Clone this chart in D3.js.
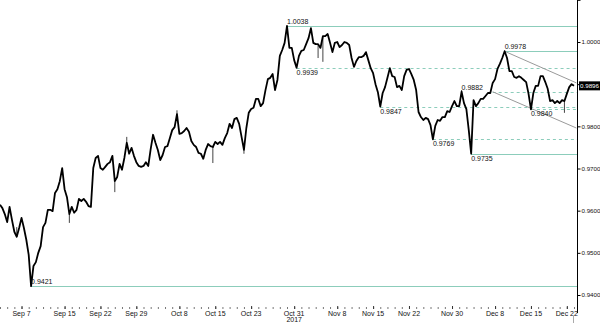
<!DOCTYPE html>
<html>
<head>
<meta charset="utf-8">
<script src="https://cdn.jsdelivr.net/npm/d3@7"></script>
<style>
  html, body { margin: 0; padding: 0; background: #fff; }
  svg { display: block; font-family: "Liberation Sans", Arial, sans-serif; }
</style>
</head>
<body>
<div id="chart"></div>
<script>
// 8-hour closes, 3 bars per trading day starting Mon 4 Sep 2017
const startDate = "2017-09-04";
const barsPerDay = 3;
const closes = [
  0.9614, 0.9606, 0.9592, 0.9573, 0.9609, 0.9578, 0.9550, 0.9538, 0.9559, 0.9583,
  0.9559, 0.9531, 0.9495, 0.9421, 0.9469, 0.9478, 0.9500, 0.9516, 0.9561, 0.9571,
  0.9602, 0.9602, 0.9599, 0.9642, 0.9651, 0.9670, 0.9701, 0.9651, 0.9632, 0.9592,
  0.9609, 0.9595, 0.9602, 0.9628, 0.9623, 0.9628, 0.9621, 0.9611, 0.9609, 0.9701,
  0.9725, 0.9730, 0.9701, 0.9697, 0.9704, 0.9711, 0.9715, 0.9730, 0.9670, 0.9680,
  0.9711, 0.9697, 0.9725, 0.9761, 0.9735, 0.9749, 0.9730, 0.9715, 0.9706, 0.9704,
  0.9706, 0.9715, 0.9706, 0.9746, 0.9780, 0.9761, 0.9744, 0.9720, 0.9732, 0.9751,
  0.9753, 0.9772, 0.9791, 0.9798, 0.9829, 0.9782, 0.9784, 0.9789, 0.9796, 0.9787,
  0.9765, 0.9756, 0.9751, 0.9737, 0.9735, 0.9723, 0.9744, 0.9758, 0.9753, 0.9751,
  0.9763, 0.9758, 0.9763, 0.9756, 0.9772, 0.9784, 0.9806, 0.9796, 0.9817, 0.9820,
  0.9806, 0.9775, 0.9744, 0.9796, 0.9832, 0.9841, 0.9844, 0.9865, 0.9865, 0.9848,
  0.9855, 0.9886, 0.9912, 0.9915, 0.9924, 0.9886, 0.9910, 0.9967, 0.9981, 0.9998,
  1.0038, 0.9986, 0.9986, 0.9957, 0.9939, 0.9967, 0.9979, 0.9981, 0.9995, 1.0009,
  1.0033, 0.9998, 0.9995, 0.9995, 0.9986, 1.0014, 1.0014, 1.0019, 0.9998, 0.9976,
  0.9998, 1.0000, 0.9988, 0.9993, 1.0000, 0.9998, 0.9993, 0.9962, 0.9941, 0.9955,
  0.9964, 0.9964, 0.9967, 0.9976, 0.9957, 0.9938, 0.9926, 0.9900, 0.9881, 0.9847,
  0.9879, 0.9893, 0.9915, 0.9938, 0.9919, 0.9917, 0.9893, 0.9896, 0.9886, 0.9919,
  0.9934, 0.9936, 0.9924, 0.9910, 0.9886, 0.9834, 0.9822, 0.9815, 0.9820, 0.9817,
  0.9803, 0.9769, 0.9801, 0.9815, 0.9813, 0.9822, 0.9822, 0.9836, 0.9834, 0.9848,
  0.9860, 0.9848, 0.9848, 0.9882, 0.9855, 0.9841, 0.9791, 0.9735, 0.9862, 0.9848,
  0.9855, 0.9865, 0.9865, 0.9872, 0.9879, 0.9879, 0.9903, 0.9912, 0.9936, 0.9948,
  0.9962, 0.9978, 0.9962, 0.9931, 0.9931, 0.9917, 0.9915, 0.9919, 0.9915, 0.9910,
  0.9905, 0.9877, 0.9840, 0.9879, 0.9896, 0.9896, 0.9919, 0.9919, 0.9905, 0.9889,
  0.9860, 0.9862, 0.9855, 0.9860, 0.9855, 0.9862, 0.9860, 0.9877, 0.9893, 0.9900,
  0.9896
];
// thin wick extremes [bar index, price]
const wicks = [[7, 0.9561], [29, 0.9571], [48, 0.9644], [53, 0.9775], [74, 0.9838], [89, 0.9713],
  [102, 0.9735], [133, 0.9962], [135, 0.9953], [193, 0.9886], [211, 0.9980], [236, 0.9832]];

const xTickLabels = ["Sep 7", "Sep 15", "Sep 22", "Sep 29", "Oct 8", "Oct 15", "Oct 23", "Oct 31",
  "Nov 8", "Nov 15", "Nov 22", "Nov 30", "Dec 8", "Dec 15", "Dec 22"];
const xTickDates = ["2017-09-07", "2017-09-15", "2017-09-22", "2017-09-29", "2017-10-08", "2017-10-15",
  "2017-10-23", "2017-10-31", "2017-11-08", "2017-11-15", "2017-11-22", "2017-11-30", "2017-12-08",
  "2017-12-15", "2017-12-22"];
const yearLabel = { date: "2017-10-31", text: "2017" };
const yTicks = [1.01, 1.00, 0.99, 0.98, 0.97, 0.96, 0.95, 0.94];
const yHiddenLabels = [1.01, 0.99]; // off the top / under the last-price tag

// support / resistance levels
const levelValues = [1.0038, 0.9978, 0.9939, 0.9882, 0.9847, 0.9840, 0.9769, 0.9735, 0.9421];
const levelFrom   = [120, 211, 124, 206, 159, 222, 181, 197, 13];
const levelLabelAt = [120, 211, 124, 193, 159, 222, 181, 197, 13];
const levelDashed = [false, false, true, true, true, true, true, false, false];
const levelAbove  = [true, true, false, true, false, false, false, false, true];
// channel lines [fromBar, fromPrice, toBar, toPrice]
const channel = [[211, 0.9978, 241, 0.9903], [206, 0.9882, 241, 0.9796]];
const lastPrice = 0.9896;

const width = 600, height = 323;
const axisX = 577;
const teal = "#8ccdbb";

function tradingDays(str) {
  const end = new Date(str + "T00:00:00Z");
  let n = 0;
  for (let t = new Date(startDate + "T00:00:00Z"); t < end; t.setUTCDate(t.getUTCDate() + 1)) {
    if (t.getUTCDay() % 6 !== 0) n++;
  }
  return n;
}

const x = d3.scaleLinear().domain([0, 80]).range([0, 574]);
const y = d3.scaleLinear().domain([0.94, 1.0]).range([295, 42]);
const bx = i => x(i / barsPerDay);

const svg = d3.select("#chart").append("svg")
  .attr("width", width).attr("height", height)
  .attr("viewBox", `0 0 ${width} ${height}`);

// level lines
const levels = levelValues.map((v, i) => ({ v, from: levelFrom[i], at: levelLabelAt[i], dashed: levelDashed[i], above: levelAbove[i] }));
svg.append("g").selectAll("line").data(levels).join("line")
  .attr("x1", d => bx(d.from)).attr("x2", axisX)
  .attr("y1", d => Math.round(y(d.v)) + 0.5).attr("y2", d => Math.round(y(d.v)) + 0.5)
  .attr("stroke", teal).attr("stroke-width", 1)
  .attr("stroke-dasharray", d => d.dashed ? "3,3" : null);

// channel
svg.append("g").selectAll("line").data(channel).join("line")
  .attr("x1", d => bx(d[0])).attr("y1", d => y(d[1]))
  .attr("x2", d => bx(d[2])).attr("y2", d => y(d[3]))
  .attr("stroke", "#9a9a9a").attr("stroke-width", 1);

// wicks
svg.append("g").selectAll("line").data(wicks).join("line")
  .attr("x1", d => bx(d[0])).attr("x2", d => bx(d[0]))
  .attr("y1", d => y(closes[d[0]])).attr("y2", d => y(d[1]))
  .attr("stroke", "#444").attr("stroke-width", 1);

// price line
const line = d3.line().x((d, i) => bx(i)).y(d => y(d));
svg.append("path")
  .attr("d", line(closes))
  .attr("fill", "none")
  .attr("stroke", "#000")
  .attr("stroke-width", 1.8)
  .attr("stroke-linejoin", "round");

// level labels
svg.append("g").selectAll("text").data(levels).join("text")
  .attr("x", d => bx(d.at))
  .attr("y", d => d.above ? y(d.v) - 2 : y(d.v) + 7)
  .attr("font-size", 7)
  .attr("fill", "#111")
  .text(d => d.v.toFixed(4));

// right axis
svg.append("line")
  .attr("x1", axisX + 0.5).attr("x2", axisX + 0.5)
  .attr("y1", 0).attr("y2", 313)
  .attr("stroke", "#000");
const yAxis = svg.append("g")
  .attr("transform", `translate(${axisX + 0.5},0)`)
  .call(d3.axisRight(y).tickValues(yTicks).tickSize(3).tickPadding(1)
    .tickFormat(d => yHiddenLabels.includes(d) ? "" : d3.format(".4f")(d)));
yAxis.select(".domain").remove();
yAxis.selectAll("text").attr("font-size", 6.2).attr("font-family", "Liberation Sans, Arial, sans-serif").attr("fill", "#111");

// last price tag
const tag = svg.append("g").attr("transform", `translate(${axisX + 2},${y(lastPrice)})`);
tag.append("rect").attr("x", 0).attr("y", -4.5).attr("width", 21).attr("height", 9).attr("fill", "#000");
tag.append("text").attr("x", 10.5).attr("y", 2.3).attr("text-anchor", "middle")
  .attr("font-size", 6.2).attr("fill", "#fff").text(lastPrice.toFixed(4));

// bottom axis
const xAxisY = 306;
const dayCount = d3.range(0, 81);
svg.append("g").selectAll("line").data(dayCount).join("line")
  .attr("x1", d => x(d) + 0.5).attr("x2", d => x(d) + 0.5)
  .attr("y1", xAxisY + 1).attr("y2", xAxisY + 3)
  .attr("stroke", "#777");
const ticks = xTickDates.map((d, i) => ({ x: x(tradingDays(d)), label: xTickLabels[i] }));
const xt = svg.append("g");
xt.selectAll("line").data(ticks).join("line")
  .attr("x1", d => d.x + 0.5).attr("x2", d => d.x + 0.5)
  .attr("y1", xAxisY).attr("y2", xAxisY + 3)
  .attr("stroke", "#333");
xt.selectAll("text").data(ticks).join("text")
  .attr("x", d => d.x).attr("y", 316)
  .attr("text-anchor", "middle").attr("font-size", 7).attr("fill", "#111")
  .text(d => d.label);
svg.append("text")
  .attr("x", x(tradingDays(yearLabel.date))).attr("y", 322)
  .attr("text-anchor", "middle").attr("font-size", 7).attr("fill", "#111")
  .text(yearLabel.text);

// current-time marker
svg.append("line")
  .attr("x1", x(80) - 0.5).attr("x2", x(80) - 0.5)
  .attr("y1", 316).attr("y2", height)
  .attr("stroke", "#aaa");
</script>
</body>
</html>
